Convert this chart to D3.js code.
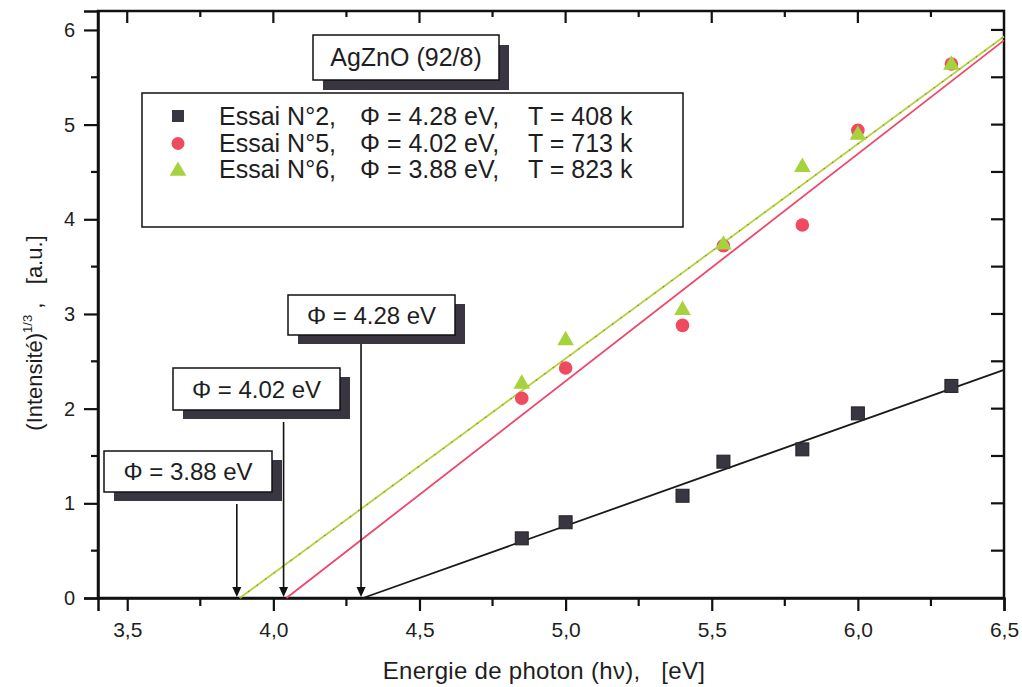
<!DOCTYPE html>
<html>
<head>
<meta charset="utf-8">
<script src="https://cdn.jsdelivr.net/npm/d3@7"></script>
<style>
  body { margin: 0; background: #fff; }
  text { font-family: "Liberation Sans", Arial, sans-serif; fill: #1e1e22; }
</style>
</head>
<body>
<svg id="chart" width="1022" height="687"></svg>
<script>
// photon energies (eV) of the measured points, shared by the 3 runs
const energies = [4.85, 5.0, 5.4, 5.54, 5.81, 6.0, 6.32];
const essai2 = [0.63, 0.80, 1.08, 1.44, 1.57, 1.95, 2.24];
const essai5 = [2.11, 2.43, 2.88, 3.72, 3.94, 4.94, 5.64];
const essai6 = [2.25, 2.71, 3.03, 3.72, 4.54, 4.88, 5.62];

// linear fits, [energy, value] end points
const fit2 = [[4.307, 0], [6.5, 2.41]];
const fit5 = [[4.045, 0], [6.5, 5.89]];
const fit6 = [[3.885, 0], [6.5, 5.93]];

const xTicks = [3.5, 4.0, 4.5, 5.0, 5.5, 6.0, 6.5];
const xTickLabels = ["3,5", "4,0", "4,5", "5,0", "5,5", "6,0", "6,5"];
const yTicks = [0, 1, 2, 3, 4, 5, 6];

const legendRuns = ["Essai N°2,", "Essai N°5,", "Essai N°6,"];
const legendPhi = ["Φ = 4.28 eV,", "Φ = 4.02 eV,", "Φ = 3.88 eV,"];
const legendT = ["T = 408 k", "T = 713 k", "T = 823 k"];

const thresholdLabels = ["Φ = 3.88 eV", "Φ = 4.02 eV", "Φ = 4.28 eV"];
const thresholdX = [3.875, 4.035, 4.30];

const colBlack = "#3a3641", colRed = "#f04a60", colGreen = "#a6d23e";

var svg = d3.select("#chart");

var x = d3.scaleLinear().domain([3.4, 6.5]).range([98, 1004]);
var y = d3.scaleLinear().domain([0, 6.2]).range([598, 11]);

// frame
svg.append("rect")
  .attr("x", x(3.4)).attr("y", y(6.2))
  .attr("width", x(6.5) - x(3.4)).attr("height", y(0) - y(6.2))
  .attr("fill", "none").attr("stroke", "#111").attr("stroke-width", 2.5);

// left axis: outward ticks
var yLeft = svg.append("g").attr("transform", "translate(" + x(3.4) + ",0)")
  .call(d3.axisLeft(y).tickValues(yTicks).tickSize(14).tickPadding(9).tickFormat(d3.format("d")));
yLeft.selectAll(".tick text").attr("font-size", 20).attr("fill", "#1e1e22").attr("font-family", "Liberation Sans, Arial, sans-serif");
yLeft.append("g").selectAll("line").data(d3.range(0.5, 6.2, 1)).join("line")
  .attr("x1", -7).attr("x2", 0).attr("y1", d => y(d)).attr("y2", d => y(d));

// bottom axis: outward ticks
var xBottom = svg.append("g").attr("transform", "translate(0," + y(0) + ")")
  .call(d3.axisBottom(x).tickValues(xTicks).tickSize(13).tickPadding(11).tickFormat((d, i) => xTickLabels[i]));
xBottom.selectAll(".tick text").attr("font-size", 21).attr("fill", "#1e1e22").attr("font-family", "Liberation Sans, Arial, sans-serif");
xBottom.append("g").selectAll("line").data(d3.range(3.75, 6.5, 0.5)).join("line")
  .attr("y1", 0).attr("y2", 8).attr("x1", d => x(d)).attr("x2", d => x(d));

// top and right: inward ticks
svg.append("g").selectAll("line").data(d3.range(3.5, 6.5, 0.25)).join("line")
  .attr("x1", d => x(d)).attr("x2", d => x(d)).attr("y1", y(6.2))
  .attr("y2", (d, i) => y(6.2) + (i % 2 ? 6 : 12));
svg.append("g").selectAll("line").data(d3.range(0.5, 6.2, 0.5)).join("line")
  .attr("x1", x(6.5)).attr("x2", x(6.5) - 13).attr("y1", d => y(d)).attr("y2", d => y(d));

svg.selectAll("line").attr("stroke", "#111").attr("stroke-width", 2.2);
svg.selectAll(".domain").attr("stroke", "#111").attr("stroke-width", 2.5);

// axis titles
svg.append("text").attr("x", 544).attr("y", 679).attr("text-anchor", "middle")
  .attr("font-size", 24).attr("letter-spacing", 0.3).attr("xml:space", "preserve")
  .text("Energie de photon (hν),   [eV]");

var yTitle = svg.append("text").attr("transform", "translate(42,333) rotate(-90)")
  .attr("text-anchor", "middle").attr("font-size", 22).attr("xml:space", "preserve");
yTitle.append("tspan").text("(Intensité)");
yTitle.append("tspan").attr("font-size", 13).attr("dy", -10).text("1/3");
yTitle.append("tspan").attr("dy", 10).text(" ,   [a.u.]");

// fit lines
var line = d3.line().x(d => x(d[0])).y(d => y(d[1]));
[[fit2, "#1a1a1a"], [fit5, "#f0456b"], [fit6, "#b2d43c"]].forEach(function(f) {
  svg.append("path").attr("d", line(f[0])).attr("fill", "none")
    .attr("stroke", f[1]).attr("stroke-width", 1.8);
});
// the green fit has a dotted darker overlay in the scan
svg.append("path").attr("d", line(fit6)).attr("fill", "none")
  .attr("stroke", "#b07a3a").attr("stroke-width", 1.2).attr("stroke-dasharray", "1.5,9");

// threshold annotations
var boxes = [[104, 451, 168, 41], [173, 368, 167, 42], [288, 295, 167, 40]];
boxes.forEach(function(b, i) {
  var g = svg.append("g");
  g.append("rect").attr("x", b[0] + 10).attr("y", b[1] + 9).attr("width", b[2]).attr("height", b[3]).attr("fill", colBlack);
  g.append("rect").attr("x", b[0]).attr("y", b[1]).attr("width", b[2]).attr("height", b[3])
    .attr("fill", "#fff").attr("stroke", "#111").attr("stroke-width", 1.5);
  g.append("text").attr("x", b[0] + b[2] / 2).attr("y", b[1] + b[3] / 2 + 8.5)
    .attr("text-anchor", "middle").attr("font-size", 24).text(thresholdLabels[i]);
  var ax = x(thresholdX[i]);
  var top = b[1] + b[3] + 9 + (i == 2 ? 0 : 3);
  g.append("line").attr("x1", ax).attr("x2", ax).attr("y1", top).attr("y2", y(0) - 8)
    .attr("stroke", "#111").attr("stroke-width", 1.6);
  g.append("path").attr("d", "M" + (ax - 4.5) + "," + (y(0) - 11) + "L" + (ax + 4.5) + "," + (y(0) - 11) + "L" + ax + "," + (y(0) - 1) + "Z")
    .attr("fill", "#111");
});

// data points
var pts = d => energies.map((e, i) => [e, d[i]]);
svg.append("g").selectAll("rect").data(pts(essai2)).join("rect")
  .attr("x", d => x(d[0]) - 6.5).attr("y", d => y(d[1]) - 6.5)
  .attr("width", 13).attr("height", 13).attr("fill", colBlack).attr("stroke", "#222").attr("stroke-width", 1);
svg.append("g").selectAll("circle").data(pts(essai5)).join("circle")
  .attr("cx", d => x(d[0])).attr("cy", d => y(d[1])).attr("r", 6.8).attr("fill", colRed);
var tri = d3.symbol().type(d3.symbolTriangle).size(120);
svg.append("g").selectAll("path").data(pts(essai6)).join("path")
  .attr("d", tri).attr("transform", d => "translate(" + x(d[0]) + "," + (y(d[1]) - 1) + ")").attr("fill", colGreen);

// title box
svg.append("rect").attr("x", 323).attr("y", 45).attr("width", 186).attr("height", 45).attr("fill", colBlack);
svg.append("rect").attr("x", 313).attr("y", 35).attr("width", 186).attr("height", 45)
  .attr("fill", "#fff").attr("stroke", "#111").attr("stroke-width", 1.5);
svg.append("text").attr("x", 406).attr("y", 66).attr("text-anchor", "middle").attr("font-size", 25).text("AgZnO (92/8)");

// legend
var legend = svg.append("g");
legend.append("rect").attr("x", 142).attr("y", 93).attr("width", 541).attr("height", 134)
  .attr("fill", "#fff").attr("stroke", "#111").attr("stroke-width", 1.5);
var rows = [125, 151.7, 178.3];
legend.append("rect").attr("x", 172).attr("y", 110).attr("width", 12).attr("height", 12).attr("fill", colBlack);
legend.append("circle").attr("cx", 178).attr("cy", 143.5).attr("r", 6.5).attr("fill", colRed);
legend.append("path").attr("d", tri).attr("transform", "translate(178,171)").attr("fill", colGreen);
rows.forEach(function(r, i) {
  legend.append("text").attr("x", 219).attr("y", r).attr("font-size", 25).text(legendRuns[i]);
  legend.append("text").attr("x", 360).attr("y", r).attr("font-size", 25).text(legendPhi[i]);
  legend.append("text").attr("x", 528).attr("y", r).attr("font-size", 25).text(legendT[i]);
});
</script>
</body>
</html>
